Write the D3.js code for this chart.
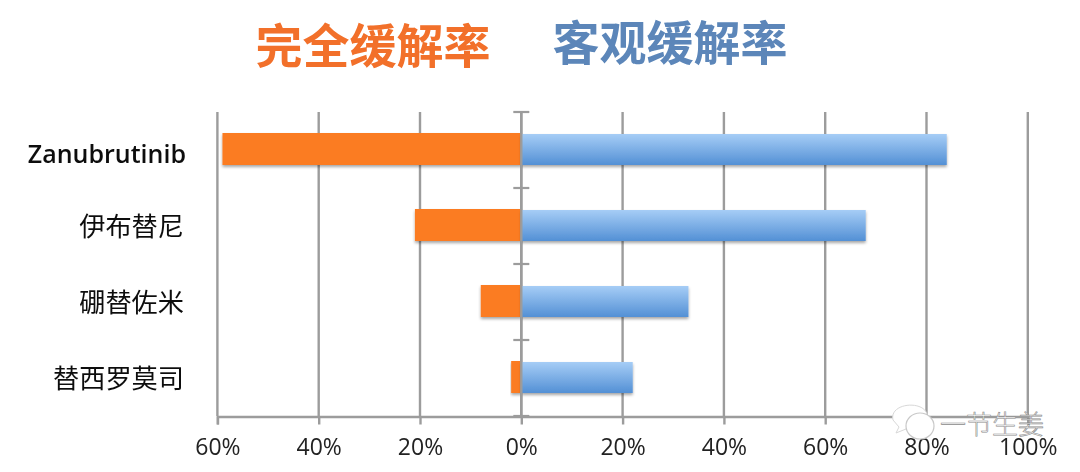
<!DOCTYPE html>
<html><head><meta charset="utf-8">
<script src="https://cdn.jsdelivr.net/npm/d3@7"></script>
<style>
html,body{margin:0;padding:0;background:#fff;overflow:hidden}
svg{display:block}
text{font-family:"Open Sans","Noto Sans CJK SC",sans-serif}
</style></head><body>
<svg id="c" width="1080" height="472"></svg>
<script>
const categories = ["Zanubrutinib","伊布替尼","硼替佐米","替西罗莫司"];
const completeResponse = [59,21,8,2];
const objectiveResponse = [84,68,33,22];
const leftTicks = [60,40,20,0];
const rightTicks = [20,40,60,80,100];
const seriesNames = ["完全缓解率","客观缓解率"];
const watermark = "一节生姜";

const svg = d3.select("#c");
const x = d3.scaleLinear().domain([-60,100]).range([217.4,1027.8]);
const y = d3.scaleBand().domain(categories).range([112,416]);
const gridColor = "#9c9c9c";

const defs = svg.append("defs");
const grad = defs.append("linearGradient").attr("id","blue").attr("x1",0).attr("x2",0).attr("y1",0).attr("y2",1);
grad.append("stop").attr("offset","0%").attr("stop-color","#a6cdf6");
grad.append("stop").attr("offset","100%").attr("stop-color","#5390d5");
const sh = defs.append("filter").attr("id","shadow").attr("x","-5%").attr("y","-20%").attr("width","110%").attr("height","150%");
sh.append("feDropShadow").attr("dx",0).attr("dy",2).attr("stdDeviation",1.8).attr("flood-color","#000").attr("flood-opacity",0.35);
defs.append("filter").attr("id","soft").append("feGaussianBlur").attr("stdDeviation",0.45);
defs.append("filter").attr("id","soft2").append("feGaussianBlur").attr("stdDeviation",0.3);

// titles
svg.append("text").attr("x",373).attr("y",63).attr("text-anchor","middle")
  .attr("font-size",47).attr("font-weight",700).attr("fill","#f26f2a").style("font-family",'"Noto Sans CJK SC"')
  .attr("filter","url(#soft)").text(seriesNames[0]);
svg.append("text").attr("x",670).attr("y",60).attr("text-anchor","middle")
  .attr("font-size",47).attr("font-weight",700).attr("fill","#5b86b9").style("font-family",'"Noto Sans CJK SC"')
  .attr("filter","url(#soft)").text(seriesNames[1]);

// vertical grid
const gridTicks = leftTicks.map(d=>-d).concat(rightTicks);
svg.append("g").selectAll("line").data(gridTicks).join("line")
  .attr("x1",d=>x(d)).attr("x2",d=>x(d)).attr("y1",112).attr("y2",416)
  .attr("stroke",gridColor).attr("stroke-width",2.4);

// bottom axis
const axis = d3.axisBottom(x).tickValues(gridTicks).tickSize(8).tickPadding(14)
  .tickFormat(d=>Math.abs(d)+"%");
const gx = svg.append("g").attr("transform","translate(0,416.5)").call(axis);
gx.select(".domain").attr("stroke",gridColor).attr("stroke-width",2.4);
gx.selectAll(".tick line").attr("stroke",gridColor).attr("stroke-width",2.4);
gx.selectAll(".tick text").attr("font-size",23).attr("fill","#222").style("font-family",'"Open Sans"').attr("filter","url(#soft2)");

// bars
const barH = 32;
const cy = d => y(d)+y.bandwidth()/2 - 1;
svg.append("g").selectAll("rect").data(categories).join("rect")
  .attr("x",(d,i)=>x(-completeResponse[i])).attr("width",(d,i)=>x(0)-x(-completeResponse[i]))
  .attr("y",d=>cy(d)-barH/2).attr("height",barH).attr("fill","#fb7b20").attr("filter","url(#shadow)");
svg.append("g").selectAll("rect").data(categories).join("rect")
  .attr("x",x(0)).attr("width",(d,i)=>x(objectiveResponse[i])-x(0))
  .attr("y",d=>cy(d)-barH/2+1).attr("height",barH-1).attr("fill","url(#blue)").attr("filter","url(#shadow)");

// centre axis
svg.append("line").attr("x1",x(0)).attr("x2",x(0)).attr("y1",112).attr("y2",416).attr("stroke",gridColor).attr("stroke-width",2.4);
svg.append("g").selectAll("line").data(categories.map(d=>y(d)).concat([416])).join("line")
  .attr("x1",x(0)-8).attr("x2",x(0)+8).attr("y1",d=>d).attr("y2",d=>d)
  .attr("stroke",gridColor).attr("stroke-width",2.2);

// category labels
svg.append("g").selectAll("text").data(categories).join("text")
  .attr("x",(d,i)=>i===0?186:184).attr("y",(d,i)=>cy(d)+(i===0?14:11)).attr("text-anchor","end")
  .attr("font-size",(d,i)=>i===0?25:26.2).attr("font-weight",(d,i)=>i===0?600:400).attr("fill","#111").attr("filter","url(#soft2)")
  .style("font-family",'"Open Sans","Noto Sans CJK SC"').text(d=>d);

// watermark
const wm = svg.append("g");
wm.append("path").attr("d","M893 420 C889 403 923 400 927 414 L915 432 L906 429 L896 433 L899 427 Z")
  .attr("fill","#fff").attr("stroke","#d8d8d8").attr("stroke-width",1);
wm.append("ellipse").attr("cx",920).attr("cy",426).attr("rx",14).attr("ry",13).attr("fill","#fff").attr("stroke","#c8c8c8").attr("stroke-width",1.2);
wm.append("text").attr("x",940).attr("y",434).attr("font-size",26).attr("fill","#fff").attr("stroke","#8a8a8a").attr("stroke-width",0.6)
  .style("font-family",'"Noto Sans CJK SC"').attr("font-weight",300).text(watermark);
</script>
</body></html>
